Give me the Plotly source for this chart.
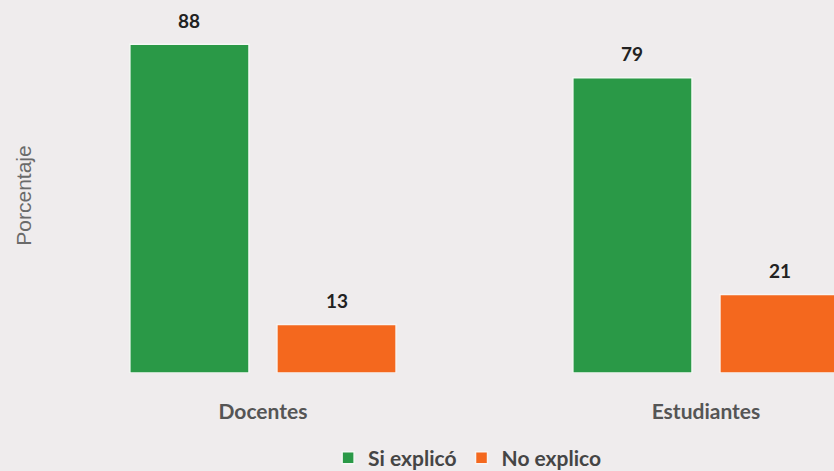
import plotly.graph_objects as go

grupos = ['Docentes', 'Estudiantes']
si_explico = [88, 79]
no_explico = [13, 21]

fuente = 'Lato'
hueco = 0.336
hueco_grupo = 0.19

fig = go.Figure()
fig.add_trace(go.Bar(
    x=grupos, y=si_explico, name='Si explicó',
    marker=dict(color='#2a9947', line=dict(color='#f4f8f4', width=1.5)),
))
fig.add_trace(go.Bar(
    x=grupos, y=no_explico, name='No explico',
    marker=dict(color='#f4681e', line=dict(color='#f8f4f2', width=1.5)),
))

# etiquetas de valor encima de cada barra
desplaz = (1 - hueco) / 4
for serie, signo in ((si_explico, -1), (no_explico, 1)):
    for i, v in enumerate(serie):
        fig.add_annotation(
            x=i + signo * desplaz, y=v, text=f'<b>{v}</b>',
            showarrow=False, yanchor='middle', yshift=24,
            font=dict(family=fuente, size=19, color='#222222'),
        )

fig.update_layout(
    width=834, height=471,
    barmode='group', bargap=hueco, bargroupgap=hueco_grupo,
    paper_bgcolor='#efeced', plot_bgcolor='#efeced',
    margin=dict(l=45, r=0, t=18, b=98, autoexpand=False),
    font=dict(family=fuente, color='#555555'),
    showlegend=True,
    legend=dict(
        orientation='h', x=0.535, xanchor='center', y=-0.24, yanchor='middle',
        font=dict(family=fuente, size=21, color='#454545', weight='bold'),
        bgcolor='rgba(0,0,0,0)', tracegroupgap=0,
    ),
)
fig.update_xaxes(
    range=[-0.492, 1.289], showgrid=False, showline=False, zeroline=False,
    ticks='outside', ticklen=20, tickcolor='rgba(0,0,0,0)',
    tickfont=dict(family=fuente, size=21, color='#555555', weight='bold'),
)
fig.update_yaxes(
    range=[0, 95], showgrid=False, showline=False, zeroline=False,
    showticklabels=False,
    title=dict(text='Porcentaje', standoff=6,
               font=dict(family='Liberation Sans', size=21, color='#6a6a6a')),
)

fig.write_html('out.html', config={'displayModeBar': False},
               post_script="document.body.style.margin='0';")
